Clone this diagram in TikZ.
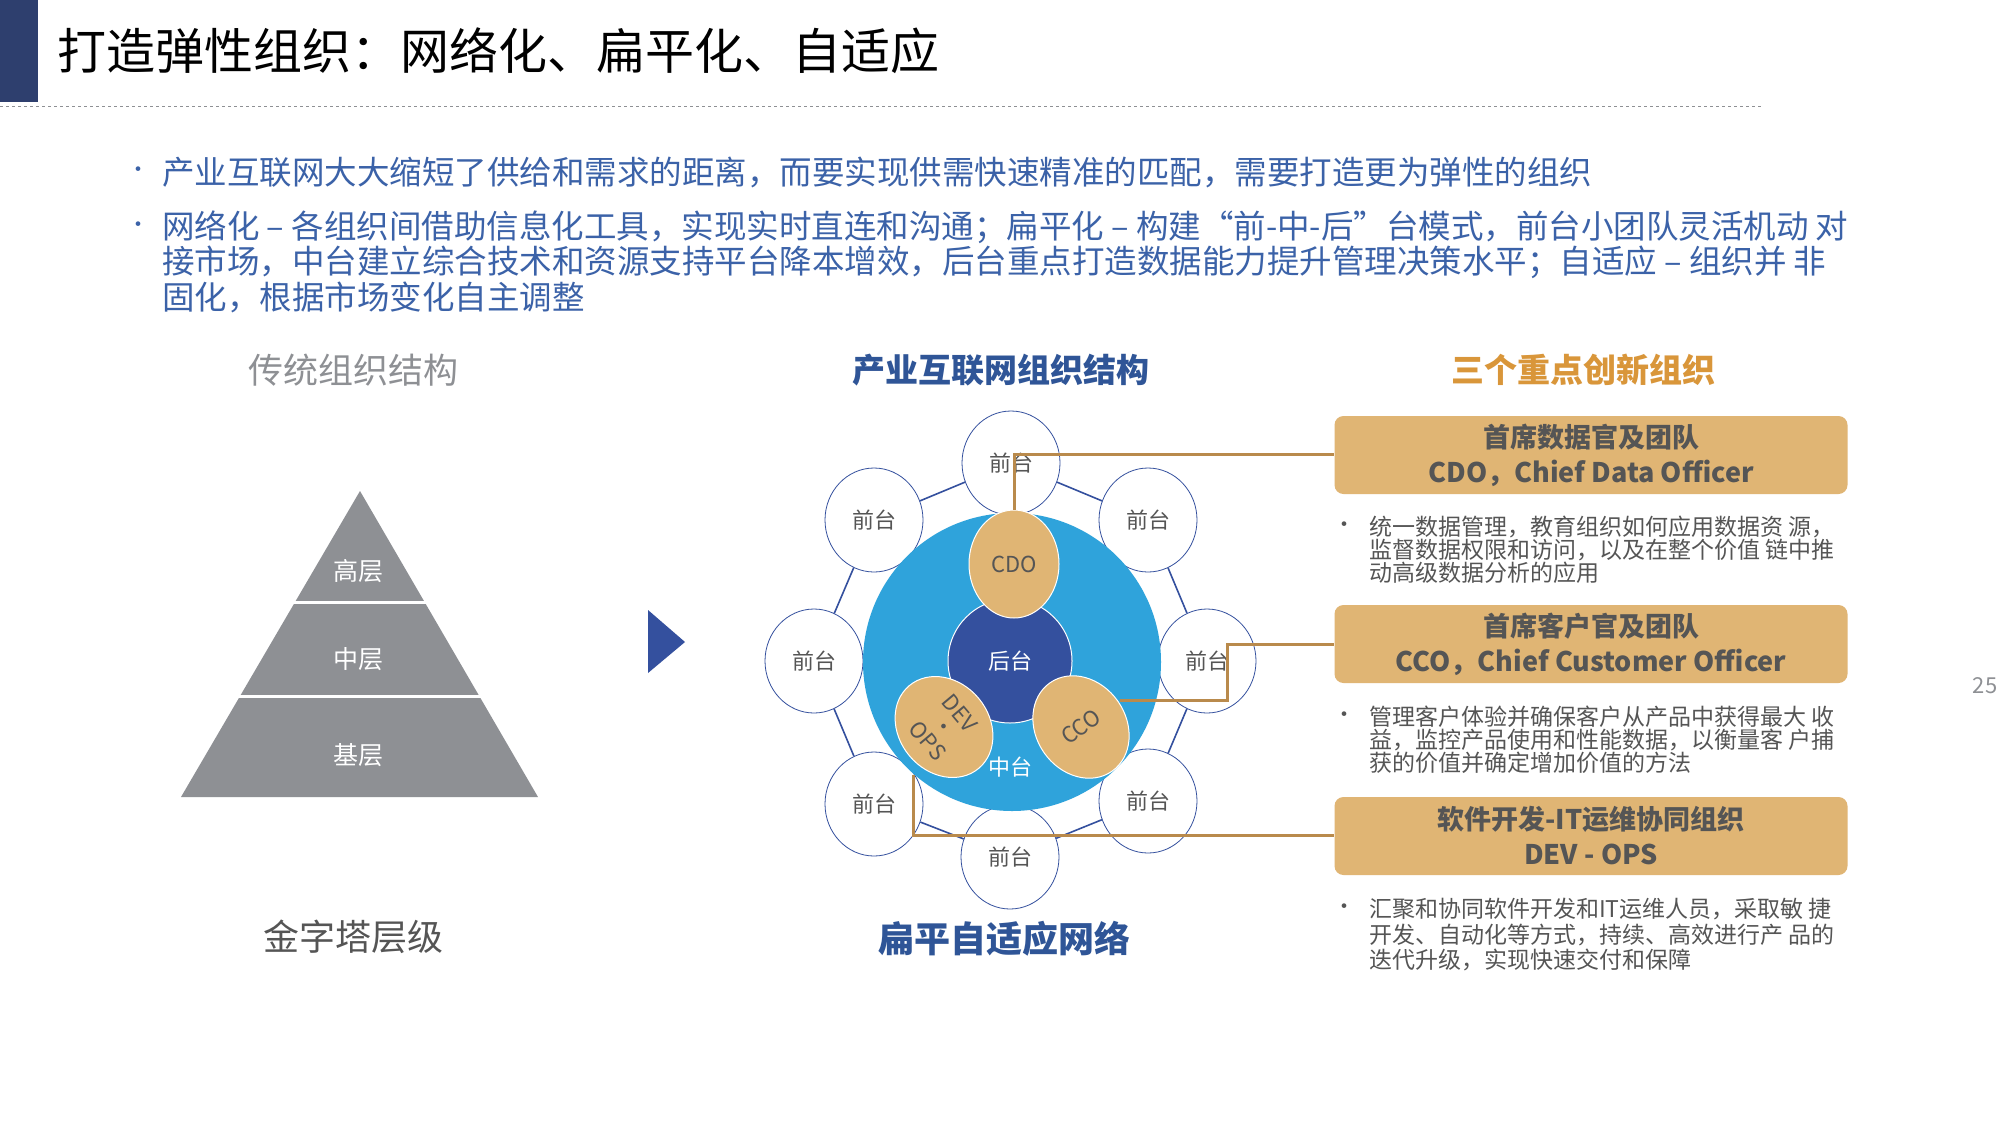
\documentclass[tikz,border=0pt]{standalone}
\usepackage{fontspec}
\setmainfont{Noto Sans CJK SC}
\usetikzlibrary{shapes.geometric}
\definecolor{navy}{HTML}{2E3F6E}
\definecolor{tblue}{HTML}{3B62A8}
\definecolor{hblue}{HTML}{2F5597}
\definecolor{sky}{HTML}{2FA3DB}
\definecolor{dblue}{HTML}{34509E}
\definecolor{gold}{HTML}{E0B574}
\definecolor{bronze}{HTML}{B98A4C}
\definecolor{orng}{HTML}{D9963A}
\definecolor{pgrey}{HTML}{8E9094}
\definecolor{tgrey}{HTML}{555555}
\newcommand{\fs}[1]{\fontsize{#1}{#1}\selectfont}
\tikzset{
 front/.style={ellipse,draw=dblue,line width=0.8pt,fill=white,minimum width=98pt,minimum height=104pt,font=\fs{22},text=tgrey},
 leader/.style={ellipse,fill=gold,draw=white,line width=1pt,minimum width=90pt,minimum height=108pt,font=\fs{22},text=tgrey,inner sep=0pt},
 box/.style={rectangle,rounded corners=9pt,fill=gold,minimum width=513pt,minimum height=78pt,align=center,font=\bfseries\fs{27},text=tgrey,inner sep=0pt},
 conn/.style={draw=bronze,line width=3pt},
 intro/.style={anchor=west,font=\fs{32.5},text=tblue,inner sep=0pt},
 desc/.style={anchor=west,font=\fs{23},text=tgrey,inner sep=0pt},
 bul/.style={font=\fs{22},inner sep=0pt}
}
\begin{document}
\begin{tikzpicture}[x=1pt,y=-1pt]
\useasboundingbox (0,0) rectangle (2000,1125);
\fill[white] (0,0) rectangle (2000,1125);
% header
\fill[navy] (0,0) rectangle (38,102);
\node[anchor=west,font=\fs{49},inner sep=0pt] (title) at (57,51) {打造弹性组织：网络化、扁平化、自适应};
\draw[pgrey,dashed,line width=0.8pt] (0,106) -- (1762,106);
% intro bullets
\node[bul,text=tblue] (b1) at (138,172) {•};
\node[intro] (i1) at (162,172) {产业互联网大大缩短了供给和需求的距离，而要实现供需快速精准的匹配，需要打造更为弹性的组织};
\node[bul,text=tblue] (b2) at (138,227) {•};
\node[intro] (i2) at (162,227) {网络化 – 各组织间借助信息化工具，实现实时直连和沟通；扁平化 – 构建“前-中-后”台模式，前台小团队灵活机动 对};
\node[intro] (i3) at (162,262) {接市场，中台建立综合技术和资源支持平台降本增效，后台重点打造数据能力提升管理决策水平；自适应 – 组织并 非};
\node[intro] (i4) at (162,297) {固化，根据市场变化自主调整};
% headings
\node[font=\fs{35},text=pgrey] (h1) at (353,370) {传统组织结构};
\node[font=\bfseries\fs{33},text=hblue] (h2) at (1001,370) {产业互联网组织结构};
\node[font=\bfseries\fs{33},text=orng] (h3) at (1583,370) {三个重点创新组织};
% pyramid
\fill[pgrey] (360,491) -- (538,797) -- (181,797) -- cycle;
\draw[white,line width=3pt] (200,602) -- (520,602);
\draw[white,line width=3pt] (150,696) -- (560,696);
\node[font=\fs{25},text=white] (p1) at (358,571) {高层};
\node[font=\fs{25},text=white] (p2) at (358,659) {中层};
\node[font=\fs{25},text=white] (p3) at (358,755) {基层};
\node[font=\fs{36},text=tgrey] (pl) at (353,937) {金字塔层级};
% arrow
\fill[dblue] (648,610) -- (685,642) -- (648,673) -- cycle;
% network
\node[front] (f1) at (1011,463) {前台};
\node[front] (f2) at (1148,520) {前台};
\node[front] (f3) at (1207,661) {前台};
\node[front] (f4) at (1148,801) {前台};
\node[front] (f5) at (1010,857) {前台};
\node[front] (f6) at (874,804) {前台};
\node[front] (f7) at (814,661) {前台};
\node[front] (f8) at (874,520) {前台};
\draw[dblue,line width=1.6pt] (f1)--(f2)--(f3)--(f4)--(f5)--(f6)--(f7)--(f8)--(f1);
\node[circle,fill=sky,minimum size=298pt] (mid) at (1012,662) {};
\node[font=\fs{22},text=white] (midt) at (1010,767) {中台};
\node[circle,fill=dblue,draw=white,line width=1pt,minimum size=124pt,font=\fs{22},text=white] (back) at (1010,661) {后台};
\node[leader] (cdo) at (1014,564) {CDO};
\node[leader,rotate=35] (cco) at (1081,727) {CCO};
\node[leader,rotate=-50,align=center,minimum width=108pt,minimum height=90pt] (dev) at (944,727) {DEV\\[-1pt]·\\[-1pt]OPS};
\node[font=\bfseries\fs{36},text=hblue] (net) at (1004,939) {扁平自适应网络};
% boxes
\node[box] (c1) at (1591,455) {首席数据官及团队\\[8pt]CDO，Chief Data Officer};
\node[box] (c2) at (1591,644) {首席客户官及团队\\[8pt]CCO，Chief Customer Officer};
\node[box] (c3) at (1591,836) {软件开发-IT运维协同组织\\[8pt]DEV - OPS};
% connectors
\coordinate (k1) at (1014,454);
\draw[conn] (cdo.north) -- (k1) -- (c1.west |- k1);
\coordinate (k2a) at (1120,700);
\coordinate (k2b) at (1227,700);
\coordinate (k2c) at (1227,644);
\draw[conn] (k2a) -- (k2b) -- (k2c) -- (c2.west);
\coordinate (k3a) at (913,775);
\coordinate (k3b) at (913,835);
\draw[conn] (k3a) -- (k3b) -- (c3.west |- k3b);
% descriptions
\node[bul,text=tgrey] (d0) at (1344,527) {·};
\node[desc] (d1) at (1369,527) {统一数据管理，教育组织如何应用数据资 源，};
\node[desc] (d2) at (1369,550) {监督数据权限和访问，以及在整个价值 链中推};
\node[desc] (d3) at (1369,573) {动高级数据分析的应用};
\node[bul,text=tgrey] (e0) at (1344,717) {·};
\node[desc] (e1) at (1369,717) {管理客户体验并确保客户从产品中获得最大 收};
\node[desc] (e2) at (1369,740) {益，监控产品使用和性能数据，以衡量客 户捕};
\node[desc] (e3) at (1369,763) {获的价值并确定增加价值的方法};
\node[bul,text=tgrey] (g0) at (1344,909) {·};
\node[desc] (g1) at (1369,909) {汇聚和协同软件开发和IT运维人员，采取敏  捷};
\node[desc] (g2) at (1369,935) {开发、自动化等方式，持续、高效进行产 品的};
\node[desc] (g3) at (1369,960) {迭代升级，实现快速交付和保障};
\node[font=\fs{22},text=pgrey] (pg) at (1985,686) {25};
\end{tikzpicture}
\end{document}
